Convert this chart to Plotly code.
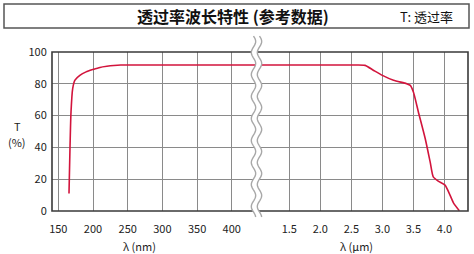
import numpy as np
import plotly.graph_objects as go

# ---- data ----
uv_nm = [165.4, 166.9, 168.3, 170.7, 174, 181, 190, 200, 210, 220, 230, 240, 300, 350, 400, 436]
uv_T = [11, 41, 62.3, 77, 82.3, 85.3, 87.5, 89, 90.3, 91, 91.5, 91.8, 91.8, 91.8, 91.8, 91.8]
ir_um = [0.95, 1.5, 2.0, 2.5, 2.72, 2.86, 3.0, 3.18, 3.39, 3.45, 3.5, 3.58, 3.69, 3.77, 3.82, 3.90, 4.01, 4.09, 4.15, 4.24]
ir_T = [91.8, 91.8, 91.8, 91.8, 91.6, 88.4, 85.3, 82.2, 80.1, 79, 74.8, 62.3, 45.6, 30.9, 21.5, 18.8, 16.3, 10, 4.8, 0.2]
nm_ticks = [150, 200, 250, 300, 350, 400]
um_ticks = [1.5, 2.0, 2.5, 3.0, 3.5, 4.0]
um_labels = ["1.5", "2.0", "2.5", "3.0", "3.5", "4.0"]
y_ticks = [0, 20, 40, 60, 80, 100]

title_text = "透过率波长特性 (参考数据)"
legend_text = "T: 透过率"

W, H = 474, 254
ML, MR, MT, MB = 52, 6, 52, 43
pw = W - ML - MR
ph = H - MT - MB
split = (256 - ML) / pw

FONT = "Noto Sans CJK SC"
RED = "#d2143c"
GRID = "#8a8a8a"
FRAME = "#3a3a3a"

def px2x(px):
    return (px - ML) / pw

def py2y(py):
    return (H - MB - py) / ph

fig = go.Figure()
fig.add_trace(go.Scatter(x=uv_nm, y=uv_T, mode="lines", xaxis="x", yaxis="y",
                         line=dict(color=RED, width=1.6, shape="spline", smoothing=0.6),
                         showlegend=False, hoverinfo="skip"))
fig.add_trace(go.Scatter(x=ir_um, y=ir_T, mode="lines", xaxis="x2", yaxis="y",
                         line=dict(color=RED, width=1.6, shape="spline", smoothing=0.6),
                         showlegend=False, hoverinfo="skip"))

tickfont = dict(family=FONT, size=11, color="#222")
xtick = dict(ticks="outside", ticklen=8, tickcolor="rgba(0,0,0,0)")
fig.update_layout(
    width=W, height=H,
    margin=dict(l=ML, r=MR, t=MT, b=MB),
    paper_bgcolor="white", plot_bgcolor="white",
    font=dict(family=FONT),
    xaxis=dict(domain=[0, split], range=[140.9, 434.9], tickvals=nm_ticks,
               showgrid=True, gridcolor=GRID, gridwidth=1, zeroline=False,
               showline=False, tickfont=tickfont, anchor="y", **xtick),
    xaxis2=dict(domain=[split, 1], range=[0.963, 4.38], tickvals=um_ticks, ticktext=um_labels,
                showgrid=True, gridcolor=GRID, gridwidth=1, zeroline=False,
                showline=False, tickfont=tickfont, anchor="y", **xtick),
    yaxis=dict(range=[0, 100], tickvals=y_ticks, showgrid=True, gridcolor=GRID, gridwidth=1,
               zeroline=False, showline=False, ticks="outside", ticklen=2,
               tickcolor="rgba(0,0,0,0)", tickfont=tickfont, anchor="x"),
)

shapes = []
# plot frame
shapes.append(dict(type="rect", xref="paper", yref="paper", x0=0, x1=1, y0=0, y1=1,
                   line=dict(color=FRAME, width=1.6), fillcolor="rgba(0,0,0,0)", layer="above"))
# title box
shapes.append(dict(type="rect", xref="paper", yref="paper",
                   x0=px2x(4), x1=px2x(469), y0=py2y(28), y1=py2y(4),
                   line=dict(color="#555", width=1.5), fillcolor="rgba(0,0,0,0)"))

# axis break (wavy double line)
ys = np.linspace(36, 217, 120)
amp = 2.2
xl = 253.5 + amp * np.sin((ys - 36) / 22 * 2 * np.pi)
xr = xl + 6
def path(xs, yv):
    return "M " + " L ".join(f"{px2x(a):.5f},{py2y(b):.5f}" for a, b in zip(xs, yv))
fill_path = path(np.concatenate([xl, xr[::-1]]), np.concatenate([ys, ys[::-1]])) + " Z"
shapes.append(dict(type="path", xref="paper", yref="paper", path=fill_path,
                   fillcolor="white", line=dict(width=0), layer="above"))
for xs in (xl, xr):
    shapes.append(dict(type="path", xref="paper", yref="paper", path=path(xs, ys),
                       line=dict(color="#a8a8a8", width=1.4), layer="above"))
fig.update_layout(shapes=shapes)

annotations = [
    dict(text="<b>" + title_text + "</b>", x=px2x(233), y=py2y(16), xref="paper", yref="paper",
         showarrow=False, font=dict(family=FONT, size=16, color="#111"), xanchor="center", yanchor="middle"),
    dict(text=legend_text, x=px2x(426), y=py2y(16), xref="paper", yref="paper",
         showarrow=False, font=dict(family=FONT, size=13, color="#111"), xanchor="center", yanchor="middle"),
    dict(text="T", x=px2x(17), y=py2y(126), xref="paper", yref="paper",
         showarrow=False, font=dict(family=FONT, size=11, color="#222"), xanchor="center", yanchor="middle"),
    dict(text="(%)", x=px2x(17), y=py2y(142), xref="paper", yref="paper",
         showarrow=False, font=dict(family=FONT, size=11, color="#222"), xanchor="center", yanchor="middle"),
    dict(text="λ (nm)", x=px2x(139), y=py2y(246), xref="paper", yref="paper",
         showarrow=False, font=dict(family=FONT, size=11, color="#222"), xanchor="center", yanchor="middle"),
    dict(text="λ (μm)", x=px2x(356), y=py2y(246), xref="paper", yref="paper",
         showarrow=False, font=dict(family=FONT, size=11, color="#222"), xanchor="center", yanchor="middle"),
]
fig.update_layout(annotations=annotations)

fig.write_html("out.html")
